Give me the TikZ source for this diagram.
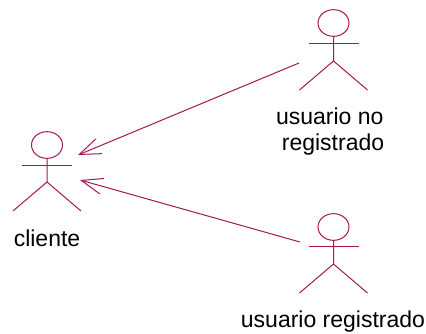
\documentclass[tikz,border=0pt]{standalone}
\usepackage{fontspec}
\setmainfont{Liberation Sans}
\usetikzlibrary{arrows.meta, positioning, shapes.geometric}
\definecolor{umlred}{HTML}{A5174F}

\begin{document}
\begin{tikzpicture}[x=0.75pt,y=-0.75pt,line width=0.75pt]
    \tikzstyle{head}=[shape=ellipse,draw=umlred,inner sep=0pt,minimum width=23.25pt,minimum height=20pt]
    \tikzstyle{limb}=[draw=umlred]
    \tikzstyle{label}=[inner sep=0pt,align=center,font=\fontsize{17.25}{19.5}\selectfont]
    \tikzstyle{assoc}=[draw=umlred,-{Straight Barb[length=16pt,width=12pt,line width=0.75pt]}]

    \useasboundingbox (0,0) rectangle (426,333);

    % cliente
    \node[head] (C0) at (47,145) {};
    \coordinate (C1) at (47,182);
    \coordinate (C2) at (47,165.5);
    \draw[limb] (C0.south) -- (C1) -- ++(-34,29);
    \draw[limb] (C1) -- ++(34,29);
    \draw[limb] (C2) ++(-25,0) -- ++(50,0);
    \node[label] (C3) at (47,238) {cliente};

    % usuario no registrado
    \node[head] (N0) at (333.5,23) {};
    \coordinate (N1) at (333.5,61);
    \coordinate (N2) at (333.5,43.5);
    \draw[limb] (N0.south) -- (N1) -- ++(-34,29);
    \draw[limb] (N1) -- ++(34,29);
    \draw[limb] (N2) ++(-25,0) -- ++(50,0);
    \node[label] (N3) at (333,132) {usuario no\hbox{\ }\\registrado};

    % usuario registrado
    \node[head] (R0) at (333.5,227) {};
    \coordinate (R1) at (333.5,264);
    \coordinate (R2) at (333.5,246.5);
    \draw[limb] (R0.south) -- (R1) -- ++(-34,29);
    \draw[limb] (R1) -- ++(34,29);
    \draw[limb] (R2) ++(-25,0) -- ++(50,0);
    \node[label] (R3) at (333,322) {usuario registrado};

    \coordinate (N4) at (299,63);
    \coordinate (R4) at (300,242);
    \coordinate (C4) at (78,155);
    \coordinate (C5) at (80,180);

    \draw[assoc] (N4) -- (C4);
    \draw[assoc] (R4) -- (C5);
  \end{tikzpicture}
\end{document}
